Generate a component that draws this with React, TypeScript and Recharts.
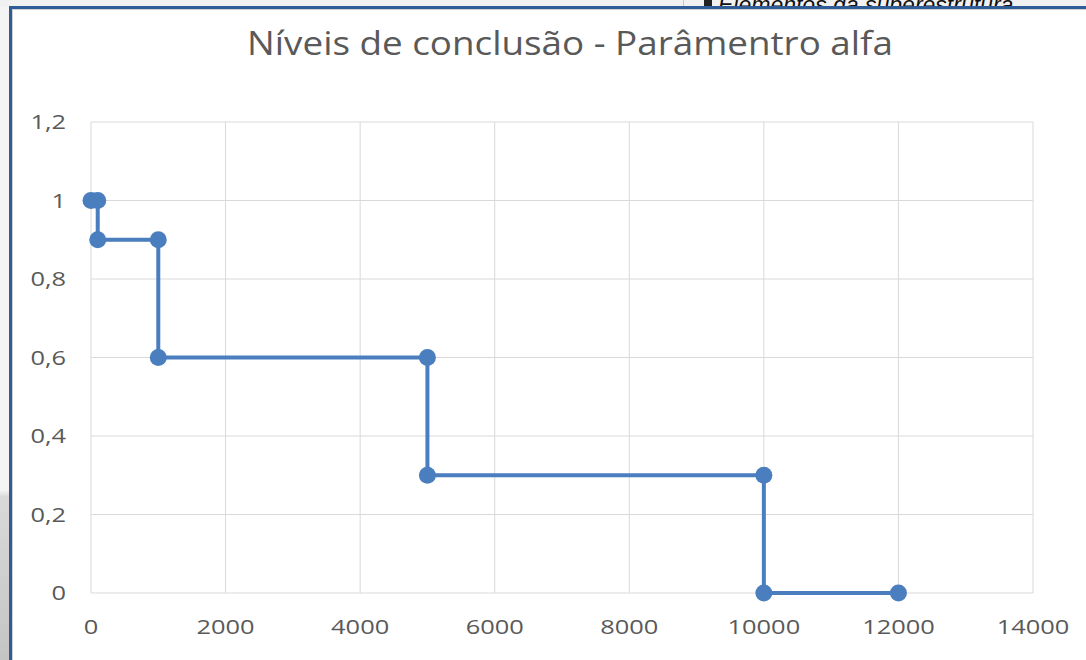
import React from "react";
import { LineChart, Line, XAxis, YAxis, CartesianGrid } from "recharts";

const xValues = [0, 100, 100, 1000, 1000, 5000, 5000, 10000, 10000, 12000];
const alphaValues = [1, 1, 0.9, 0.9, 0.6, 0.6, 0.3, 0.3, 0, 0];
const xTicks = [0, 2000, 4000, 6000, 8000, 10000, 12000, 14000];
const yTicks = [0, 0.2, 0.4, 0.6, 0.8, 1, 1.2];
const chartTitle = "Níveis de conclusão - Parâmentro alfa";
const behindText = "Elementos da superestrutura";

const data = xValues.map((x, i) => ({ x, alpha: alphaValues[i] }));

const FONT = "'Open Sans', sans-serif";
const GRAY = "#595959";
const BLUE = "#4a7ebf";
const SX = 1.27;

const fmtY = (v: number) => String(Math.round(v * 10) / 10).replace(".", ",");

function XTick(props: any) {
  const { x, y, payload } = props;
  return (
    <g transform={`translate(${x},${y}) scale(${SX},1)`}>
      <text x={0} y={0} dy="0.71em" textAnchor="middle" fill={GRAY} fontSize={20} fontFamily={FONT}>
        {String(payload.value)}
      </text>
    </g>
  );
}

function YTick(props: any) {
  const { x, y, payload } = props;
  return (
    <g transform={`translate(${x},${y}) scale(${SX},1)`}>
      <text x={0} y={0} dy="0.355em" textAnchor="end" fill={GRAY} fontSize={20} fontFamily={FONT}>
        {fmtY(payload.value)}
      </text>
    </g>
  );
}

export default function App() {
  return (
    <div style={{ position: "absolute", left: 0, top: 0, width: 1086, height: 660, background: "#ffffff", overflow: "hidden" }}>
      {/* top strip behind */}
      <div style={{ position: "absolute", left: 0, top: 0, width: 1086, height: 7, background: "#f1f1f1", overflow: "hidden" }}>
        <div style={{ position: "absolute", left: 683, top: 0, width: 1, height: 7, background: "#c8c8c8" }} />
        <div style={{ position: "absolute", left: 704, top: 0, width: 8, height: 7, background: "#222" }} />
        <div style={{ position: "absolute", left: 718, top: -8, fontFamily: "'Liberation Sans', sans-serif", fontStyle: "italic", fontSize: 23, color: "#111", whiteSpace: "nowrap" }}>
          {behindText}
        </div>
      </div>
      {/* left strip */}
      <div style={{ position: "absolute", left: 0, top: 7, width: 9, height: 653, background: "linear-gradient(to bottom, #f4f4f4 0%, #f4f4f4 74%, #d9d9d9 75%, #c4c4c4 100%)" }} />
      {/* blue borders */}
      <div style={{ position: "absolute", left: 9, top: 6, width: 1077, height: 3, background: "#2f5b97" }} />
      <div style={{ position: "absolute", left: 9, top: 6, width: 3, height: 654, background: "#2f5b97" }} />
      <div style={{ position: "absolute", left: 12, top: 9, width: 1074, height: 1, background: "#d0d0d0" }} />
      <div style={{ position: "absolute", left: 12, top: 9, width: 1, height: 651, background: "#d0d0d0" }} />
      {/* title */}
      <div style={{ position: "absolute", left: 13, top: 20, width: 1114, textAlign: "center", fontFamily: FONT, fontSize: 33, color: GRAY, whiteSpace: "nowrap", transform: "scaleX(1.115)", transformOrigin: "557px 0" }}>
        {chartTitle}
      </div>
      <div style={{ position: "absolute", left: 0, top: 0 }}>
        <LineChart width={1086} height={660} data={data} margin={{ top: 122, right: 53, bottom: 17, left: 11 }}>
          <CartesianGrid stroke="#d9d9d9" strokeWidth={1} />
          <XAxis
            dataKey="x"
            type="number"
            domain={[0, 14000]}
            ticks={xTicks}
            axisLine={false}
            tickLine={false}
            tickSize={0}
            tickMargin={27}
            height={50}
            interval={0}
            tick={<XTick />}
          />
          <YAxis
            type="number"
            domain={[0, 1.2]}
            ticks={yTicks}
            axisLine={false}
            tickLine={false}
            tickSize={0}
            tickMargin={25}
            width={80}
            interval={0}
            tick={<YTick />}
          />
          <Line
            dataKey="alpha"
            type="linear"
            stroke={BLUE}
            strokeWidth={4}
            dot={{ r: 8.5, fill: BLUE, stroke: BLUE, strokeWidth: 0 }}
            isAnimationActive={false}
          />
        </LineChart>
      </div>
    </div>
  );
}
